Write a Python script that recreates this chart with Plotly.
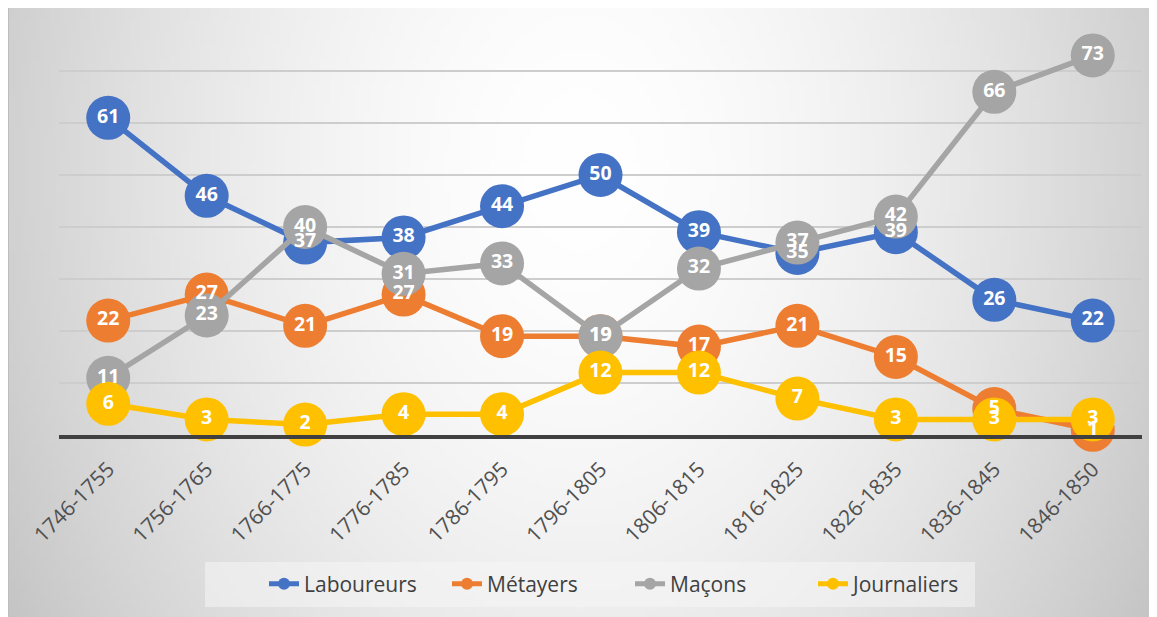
import base64
import struct
import zlib

import plotly.graph_objects as go

# ---------------- data ----------------
periods = ["1746-1755", "1756-1765", "1766-1775", "1776-1785", "1786-1795",
           "1796-1805", "1806-1815", "1816-1825", "1826-1835", "1836-1845",
           "1846-1850"]
laboureurs = [61, 46, 37, 38, 44, 50, 39, 35, 39, 26, 22]
metayers = [22, 27, 21, 27, 19, 19, 17, 21, 15, 5, 1]
macons = [11, 23, 40, 31, 33, 19, 32, 37, 42, 66, 73]
journaliers = [6, 3, 2, 4, 4, 12, 12, 7, 3, 3, 3]

series = [
    ("Laboureurs", laboureurs, "#4472C4"),
    ("Métayers", metayers, "#ED7D31"),
    ("Maçons", macons, "#A5A5A5"),
    ("Journaliers", journaliers, "#FFC000"),
]

W, H = 1157, 617
OFF = 8  # page offset of the figure (body margin)
# plot area in page pixels
P_L, P_R, P_T, P_B = 59, 1142, 19, 435
ML, MT = P_L - OFF, P_T - OFF
MR = W - (P_R - OFF)
MB = H - (P_B - OFF)
PW = W - ML - MR
PH = H - MT - MB


def px_x(px):  # page pixel -> paper x
    return (px - P_L) / PW


def px_y(py):  # page pixel -> paper y
    return (P_B - py) / PH


# ---------------- background gradient as PNG ----------------
def make_png(w, h, func):
    raw = b"".join(b"\x00" + bytes(func(i, j) for i in range(w)) for j in range(h))

    def chunk(tag, data):
        c = struct.pack(">I", len(data)) + tag + data
        return c + struct.pack(">I", zlib.crc32(tag + data) & 0xFFFFFFFF)

    png = b"\x89PNG\r\n\x1a\n"
    png += chunk(b"IHDR", struct.pack(">IIBBBBB", w, h, 8, 0, 0, 0, 0))
    png += chunk(b"IDAT", zlib.compress(raw, 9))
    png += chunk(b"IEND", b"")
    return "data:image/png;base64," + base64.b64encode(png).decode()


IMG_X0, IMG_X1, IMG_Y0, IMG_Y1 = OFF, W, OFF, H
GW, GH = 230, 124


def shade(i, j):
    x = IMG_X0 + (i + 0.5) * (IMG_X1 - IMG_X0) / GW
    y = IMG_Y0 + (j + 0.5) * (IMG_Y1 - IMG_Y0) / GH
    dx = (x - 580) / 580
    dy = (y - 170) / 800
    r = (dx * dx + dy * dy) ** 0.5
    v = 255 - 47 * r ** 1.7
    return int(max(185, min(255, v)))


bg_uri = make_png(GW, GH, shade)

# ---------------- figure ----------------
fig = go.Figure()

for name, vals, col in series:
    fig.add_trace(go.Scatter(
        x=periods, y=vals, name=name, mode="lines+markers",
        line=dict(color=col, width=5.5),
        marker=dict(color=col, size=44, line=dict(width=0)),
        cliponaxis=False, hoverinfo="skip",
    ))

for name, vals, col in series:
    fig.add_trace(go.Scatter(
        x=periods, y=vals, mode="text", text=[str(v) for v in vals],
        textposition="middle center",
        textfont=dict(family="Open Sans", size=19.5, color="white", weight="bold"),
        showlegend=False, cliponaxis=False, hoverinfo="skip",
    ))

fig.add_layout_image(dict(
    source=bg_uri, xref="paper", yref="paper",
    x=px_x(IMG_X0), y=px_y(IMG_Y0),
    sizex=(IMG_X1 - IMG_X0) / PW, sizey=(IMG_Y1 - IMG_Y0) / PH,
    xanchor="left", yanchor="top", sizing="stretch", layer="below",
))

# left border line of the chart area
fig.add_shape(type="line", xref="paper", yref="paper",
              x0=px_x(OFF + 0.5), x1=px_x(OFF + 0.5), y0=px_y(OFF), y1=px_y(H + OFF),
              line=dict(color="#bdbdbd", width=1), layer="below")

# legend box
fig.add_shape(type="rect", xref="paper", yref="paper",
              x0=px_x(205), x1=px_x(975), y0=px_y(607), y1=px_y(562),
              fillcolor="rgba(245,245,245,0.55)", line=dict(width=0), layer="below")

fig.update_layout(
    width=W, height=H,
    margin=dict(l=ML, r=MR, t=MT, b=MB, pad=0),
    paper_bgcolor="#f0f0f0",
    plot_bgcolor="rgba(0,0,0,0)",
    showlegend=True,
    legend=dict(
        orientation="h", x=px_x(630), xanchor="center",
        y=px_y(584), yanchor="middle",
        bgcolor="rgba(0,0,0,0)",
        font=dict(family="Open Sans", size=21, color="#404040"),
        itemsizing="constant",
        entrywidth=138, entrywidthmode="pixels",
    ),
    xaxis=dict(
        type="category", range=[-0.5, len(periods) - 0.5],
        tickangle=-45, showgrid=False, zeroline=False,
        showline=True, linecolor="#404040", linewidth=3.5,
        ticks="", ticklabelstandoff=10,
        tickfont=dict(family="Open Sans", size=21, color="#505050"),
        fixedrange=True,
    ),
    yaxis=dict(
        range=[0, 80], dtick=10, showticklabels=False,
        showgrid=True, gridcolor="#cdcdcd", gridwidth=1.5,
        zeroline=False, showline=False, ticks="", fixedrange=True,
    ),
)

fig.write_html("out.html")
